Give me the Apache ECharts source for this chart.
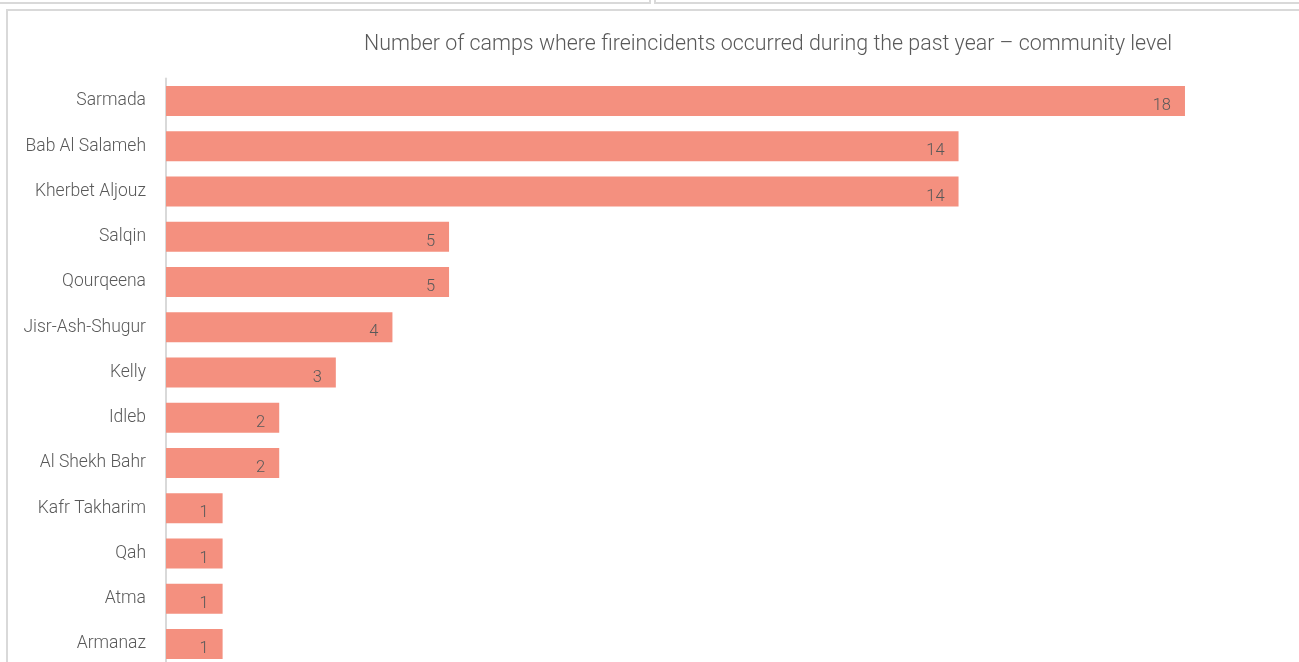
<!DOCTYPE html>
<html>
<head>
<meta charset="utf-8">
<style>
  html, body { margin: 0; padding: 0; background: #ffffff; overflow: hidden; }
  #chart { width: 1299px; height: 700px; }
</style>
<script src="https://cdn.jsdelivr.net/npm/echarts@6/dist/echarts.min.js"></script>
</head>
<body>
<div id="chart"></div>
<script>
// Communities, top to bottom
const communities = [
  'Sarmada', 'Bab Al Salameh', 'Kherbet Aljouz', 'Salqin', 'Qourqeena',
  'Jisr-Ash-Shugur', 'Kelly', 'Idleb', 'Al Shekh Bahr', 'Kafr Takharim',
  'Qah', 'Atma', 'Armanaz'
];
// Number of camps with fire incidents in each community
const campCounts = [18, 14, 14, 5, 5, 4, 3, 2, 2, 1, 1, 1, 1];

const titleText = 'Number of camps where fireincidents occurred during the past year – community level';

const textColor = '#595959';
const barColor = '#F4907F';
const fontFamily = 'Roboto, "Noto Sans", sans-serif';

const chart = echarts.init(document.getElementById('chart'), null, { renderer: 'canvas' });

chart.setOption({
  backgroundColor: '#ffffff',
  animation: false,
  title: {
    text: titleText,
    left: 763,
    top: 29,
    textAlign: 'center',
    textStyle: { color: textColor, fontSize: 21.4, fontWeight: 300, fontFamily: fontFamily }
  },
  graphic: [
    // panel frames
    { type: 'rect', shape: { x: -5, y: -20, width: 655, height: 23 }, style: { fill: 'none', stroke: '#d9d9d9', lineWidth: 2 }, silent: true },
    { type: 'rect', shape: { x: 655, y: -20, width: 660, height: 23 }, style: { fill: 'none', stroke: '#d9d9d9', lineWidth: 2 }, silent: true },
    { type: 'rect', shape: { x: 7, y: 10, width: 1310, height: 720 }, style: { fill: 'none', stroke: '#d9d9d9', lineWidth: 2 }, silent: true }
  ],
  grid: {
    left: 166,
    top: 78.5,
    width: 1132.2,
    height: 588,
    containLabel: false
  },
  xAxis: {
    type: 'value',
    min: 0,
    max: 20,
    show: false
  },
  yAxis: {
    type: 'category',
    inverse: true,
    data: communities,
    axisLine: { show: true, lineStyle: { color: '#d9d9d9', width: 2 } },
    axisTick: { show: false },
    axisLabel: {
      color: textColor,
      fontSize: 17.5,
      fontWeight: 300,
      fontFamily: fontFamily,
      margin: 20,
      padding: [4, 0, 0, 0]
    },
    splitLine: { show: false }
  },
  series: [{
    type: 'bar',
    data: campCounts,
    barWidth: 30,
    itemStyle: { color: barColor },
    label: {
      show: true,
      position: 'insideRight',
      offset: [-9, 5],
      color: textColor,
      fontSize: 16.5,
      fontWeight: 300,
      fontFamily: fontFamily
    }
  }]
});
</script>
</body>
</html>
